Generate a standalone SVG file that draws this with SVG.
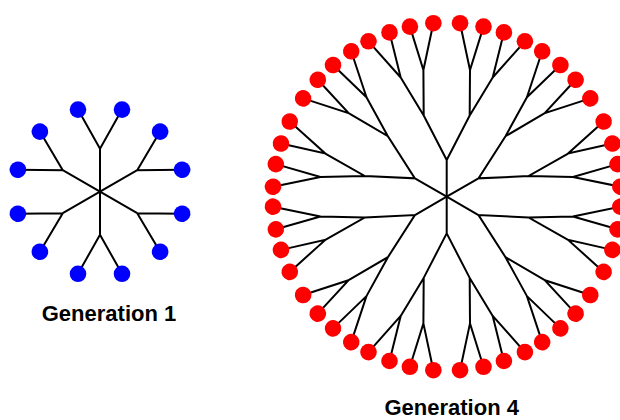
<svg xmlns="http://www.w3.org/2000/svg" xmlns:xlink="http://www.w3.org/1999/xlink" width="620" height="420" viewBox="0 0 620 420">
<style>
.bond{fill:none;stroke:#000;stroke-width:2;stroke-linejoin:miter}
.blue{fill:#0000FF}
.red{fill:#FF0000}
.lbl{font-family:"Liberation Sans",Arial,sans-serif;font-weight:bold;font-size:22px;fill:#000;text-anchor:middle}
</style>
<defs>
<path id="arm1" d="M0,0 L0,-43 M-22,-82.1 L0,-43 L22,-82.1"/>
<path id="arm4" d="M0,0 L0,-36.7 M-23.3,-126.7 L-23,-81.2 L0,-36.7 L23,-81.2 L23.3,-126.7 M-46,-119.2 L-23,-81.2 M23,-81.2 L46,-119.2 M-13.35,-173.5 L-23.3,-126.7 L-36.8,-170.1 M13.35,-173.5 L23.3,-126.7 L36.8,-170.1 M-57.2,-164.3 L-46,-119.2 L-78.2,-155.4 M57.2,-164.3 L46,-119.2 L78.2,-155.4"/>
</defs>
<g id="connectors">
<g transform="translate(100 191.7)" class="bond">
<use xlink:href="#arm1"/>
<use xlink:href="#arm1" transform="rotate(60)"/>
<use xlink:href="#arm1" transform="rotate(120)"/>
<use xlink:href="#arm1" transform="rotate(180)"/>
<use xlink:href="#arm1" transform="rotate(240)"/>
<use xlink:href="#arm1" transform="rotate(300)"/>
</g>
<g transform="translate(446.7 196.7)" class="bond">
<use xlink:href="#arm4"/>
<use xlink:href="#arm4" transform="rotate(60)"/>
<use xlink:href="#arm4" transform="rotate(120)"/>
<use xlink:href="#arm4" transform="rotate(180)"/>
<use xlink:href="#arm4" transform="rotate(240)"/>
<use xlink:href="#arm4" transform="rotate(300)"/>
</g>
</g>
<g id="gen1-nodes" transform="translate(100 191.7)" class="blue">
<g id="g1-arm0"><g id="g1-n1"><circle cx="-22" cy="-82.1" r="8.3"/></g><g id="g1-n2"><circle cx="22" cy="-82.1" r="8.3"/></g></g>
<g id="g1-arm1" transform="rotate(60)"><g id="g1-n3"><circle cx="-22" cy="-82.1" r="8.3"/></g><g id="g1-n4"><circle cx="22" cy="-82.1" r="8.3"/></g></g>
<g id="g1-arm2" transform="rotate(120)"><g id="g1-n5"><circle cx="-22" cy="-82.1" r="8.3"/></g><g id="g1-n6"><circle cx="22" cy="-82.1" r="8.3"/></g></g>
<g id="g1-arm3" transform="rotate(180)"><g id="g1-n7"><circle cx="-22" cy="-82.1" r="8.3"/></g><g id="g1-n8"><circle cx="22" cy="-82.1" r="8.3"/></g></g>
<g id="g1-arm4" transform="rotate(240)"><g id="g1-n9"><circle cx="-22" cy="-82.1" r="8.3"/></g><g id="g1-n10"><circle cx="22" cy="-82.1" r="8.3"/></g></g>
<g id="g1-arm5" transform="rotate(300)"><g id="g1-n11"><circle cx="-22" cy="-82.1" r="8.3"/></g><g id="g1-n12"><circle cx="22" cy="-82.1" r="8.3"/></g></g>
</g>
<g id="gen4-nodes" transform="translate(446.7 196.7)" class="red">
<g id="g4-arm0">
<g id="g4-n01"><circle cx="-78.2" cy="-155.4" r="8.3"/></g><g id="g4-n02"><circle cx="-57.2" cy="-164.3" r="8.3"/></g><g id="g4-n03"><circle cx="-36.8" cy="-170.1" r="8.3"/></g><g id="g4-n04"><circle cx="-13.35" cy="-173.5" r="8.3"/></g><g id="g4-n05"><circle cx="13.35" cy="-173.5" r="8.3"/></g><g id="g4-n06"><circle cx="36.8" cy="-170.1" r="8.3"/></g><g id="g4-n07"><circle cx="57.2" cy="-164.3" r="8.3"/></g><g id="g4-n08"><circle cx="78.2" cy="-155.4" r="8.3"/></g>
</g>
<g id="g4-arm1" transform="rotate(60)">
<g id="g4-n09"><circle cx="-78.2" cy="-155.4" r="8.3"/></g><g id="g4-n10"><circle cx="-57.2" cy="-164.3" r="8.3"/></g><g id="g4-n11"><circle cx="-36.8" cy="-170.1" r="8.3"/></g><g id="g4-n12"><circle cx="-13.35" cy="-173.5" r="8.3"/></g><g id="g4-n13"><circle cx="13.35" cy="-173.5" r="8.3"/></g><g id="g4-n14"><circle cx="36.8" cy="-170.1" r="8.3"/></g><g id="g4-n15"><circle cx="57.2" cy="-164.3" r="8.3"/></g><g id="g4-n16"><circle cx="78.2" cy="-155.4" r="8.3"/></g>
</g>
<g id="g4-arm2" transform="rotate(120)">
<g id="g4-n17"><circle cx="-78.2" cy="-155.4" r="8.3"/></g><g id="g4-n18"><circle cx="-57.2" cy="-164.3" r="8.3"/></g><g id="g4-n19"><circle cx="-36.8" cy="-170.1" r="8.3"/></g><g id="g4-n20"><circle cx="-13.35" cy="-173.5" r="8.3"/></g><g id="g4-n21"><circle cx="13.35" cy="-173.5" r="8.3"/></g><g id="g4-n22"><circle cx="36.8" cy="-170.1" r="8.3"/></g><g id="g4-n23"><circle cx="57.2" cy="-164.3" r="8.3"/></g><g id="g4-n24"><circle cx="78.2" cy="-155.4" r="8.3"/></g>
</g>
<g id="g4-arm3" transform="rotate(180)">
<g id="g4-n25"><circle cx="-78.2" cy="-155.4" r="8.3"/></g><g id="g4-n26"><circle cx="-57.2" cy="-164.3" r="8.3"/></g><g id="g4-n27"><circle cx="-36.8" cy="-170.1" r="8.3"/></g><g id="g4-n28"><circle cx="-13.35" cy="-173.5" r="8.3"/></g><g id="g4-n29"><circle cx="13.35" cy="-173.5" r="8.3"/></g><g id="g4-n30"><circle cx="36.8" cy="-170.1" r="8.3"/></g><g id="g4-n31"><circle cx="57.2" cy="-164.3" r="8.3"/></g><g id="g4-n32"><circle cx="78.2" cy="-155.4" r="8.3"/></g>
</g>
<g id="g4-arm4" transform="rotate(240)">
<g id="g4-n33"><circle cx="-78.2" cy="-155.4" r="8.3"/></g><g id="g4-n34"><circle cx="-57.2" cy="-164.3" r="8.3"/></g><g id="g4-n35"><circle cx="-36.8" cy="-170.1" r="8.3"/></g><g id="g4-n36"><circle cx="-13.35" cy="-173.5" r="8.3"/></g><g id="g4-n37"><circle cx="13.35" cy="-173.5" r="8.3"/></g><g id="g4-n38"><circle cx="36.8" cy="-170.1" r="8.3"/></g><g id="g4-n39"><circle cx="57.2" cy="-164.3" r="8.3"/></g><g id="g4-n40"><circle cx="78.2" cy="-155.4" r="8.3"/></g>
</g>
<g id="g4-arm5" transform="rotate(300)">
<g id="g4-n41"><circle cx="-78.2" cy="-155.4" r="8.3"/></g><g id="g4-n42"><circle cx="-57.2" cy="-164.3" r="8.3"/></g><g id="g4-n43"><circle cx="-36.8" cy="-170.1" r="8.3"/></g><g id="g4-n44"><circle cx="-13.35" cy="-173.5" r="8.3"/></g><g id="g4-n45"><circle cx="13.35" cy="-173.5" r="8.3"/></g><g id="g4-n46"><circle cx="36.8" cy="-170.1" r="8.3"/></g><g id="g4-n47"><circle cx="57.2" cy="-164.3" r="8.3"/></g><g id="g4-n48"><circle cx="78.2" cy="-155.4" r="8.3"/></g>
</g>
</g>
<g id="labels">
<text class="lbl" x="109" y="321">Generation 1</text>
<text class="lbl" x="451.7" y="415">Generation 4</text>
</g>
</svg>
